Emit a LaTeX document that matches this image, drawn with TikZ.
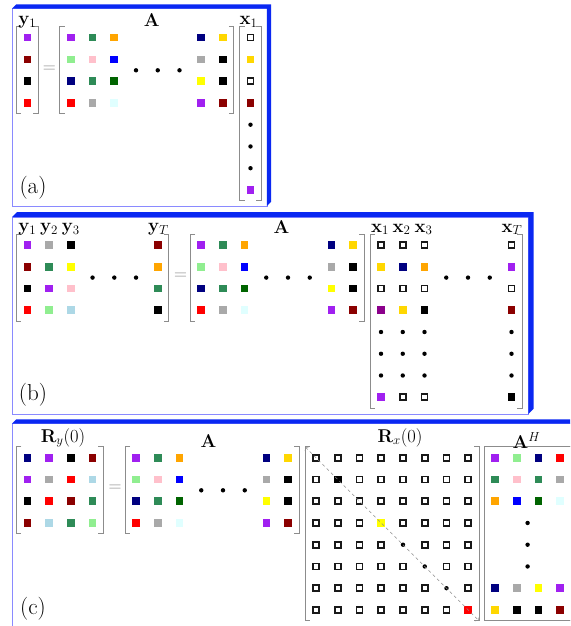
\RequirePackage{fix-cm}
\documentclass[tikz,border=0pt]{standalone}
\usepackage{xcolor}
\usepackage{amsmath}
\usepackage{tikz}
\usetikzlibrary{arrows.meta, calc}

% entry colours
\definecolor{purp}{HTML}{A020F0}
\definecolor{seagrn}{HTML}{2E8B57}
\definecolor{orng}{HTML}{FFA500}
\definecolor{navy}{HTML}{000080}
\definecolor{gold}{HTML}{FFD700}
\definecolor{ltgrn}{HTML}{90EE90}
\definecolor{pnk}{HTML}{FFC0CB}
\definecolor{blu}{HTML}{0000FF}
\definecolor{dgray}{HTML}{A9A9A9}
\definecolor{dgrn}{HTML}{006400}
\definecolor{yel}{HTML}{FFFF00}
\definecolor{rd}{HTML}{FF0000}
\definecolor{ltcyan}{HTML}{E0FFFF}
\definecolor{dred}{HTML}{8B0000}
\definecolor{ltblue}{HTML}{ADD8E6}
\definecolor{dmag}{HTML}{8B008B}
\definecolor{blk}{HTML}{000000}
\definecolor{frameblue}{HTML}{0A28F2}
\definecolor{frameline}{HTML}{8A8AFF}

\def\pitch{21.75}
\def\half{10.9}
\def\codeskip{-}
\def\codeopen{o}
\def\codedot{d}

% one entry: name, x, y, code (o = open square, d = dot, - = nothing, else a colour)
\newcommand{\cellcode}[4]{%
  \edef\tmpcode{#4}%
  \ifx\tmpcode\codeskip\relax
  \else\ifx\tmpcode\codeopen
    \node[opensq] (#1) at (#2,#3) {};%
  \else\ifx\tmpcode\codedot
    \node[vdot] (#1) at (#2,#3) {};%
  \else
    \node[fillsq, fill=\tmpcode] (#1) at (#2,#3) {};%
  \fi\fi\fi}

% bracketed grid: name, x of column 1, y of row 1, columns, rows, entries row by row
\newcommand{\matgrid}[6]{%
  \foreach \row [count=\i] in {#6} {
    \foreach \s [count=\j] in \row {
      \pgfmathsetmacro\cx{#2+(\j-1)*\pitch}
      \pgfmathsetmacro\cy{#3+(\i-1)*\pitch}
      \cellcode{#1-\i-\j}{\cx}{\cy}{\s}
    }
  }
  \pgfmathsetmacro\brL{#2-\half}
  \pgfmathsetmacro\brR{#2+(#4-1)*\pitch+\half}
  \pgfmathsetmacro\brT{#3-\half}
  \pgfmathsetmacro\brB{#3+(#5-1)*\pitch+\half}
  \coordinate (#1-nw) at (\brL,\brT);
  \coordinate (#1-sw) at (\brL,\brB);
  \coordinate (#1-se) at (\brR,\brB);
  \draw[brak] (\brL+5,\brT) -- (\brL,\brT) -- (\brL,\brB) -- (\brL+5,\brB);
  \draw[brak] (\brR-5,\brT) -- (\brR,\brT) -- (\brR,\brB) -- (\brR-5,\brB);
}

% three dots in a row / in a column: name, x, y of the first dot
\newcommand{\dotrow}[3]{%
  \foreach \k in {0,1,2} \node[vdot] (#1-\k) at (#2+\k*\pitch,#3) {};}
\newcommand{\dotcol}[3]{%
  \foreach \k in {0,1,2} \node[vdot] (#1-\k) at (#2,#3+\k*\pitch) {};}

% panel box with raised top and right edge: x1, y1, x2, y2, depth
\newcommand{\panelframe}[5]{%
  \draw[frameline] (#1,#2) rectangle (#3,#4);
  \fill[frameblue] (#1,#2) -- ++(#5,-#5) -- (#3+#5,#2-#5) -- (#3+#5,#4-#5) -- (#3,#4) -- (#3,#2) -- cycle;}

\begin{document}
\begin{tikzpicture}[
    x=1pt, y=-1pt,
    fillsq/.style={rectangle, minimum size=7.6pt, inner sep=0pt},
    opensq/.style={rectangle, minimum size=6pt, inner sep=0pt, draw=black!90, line width=1.6pt, fill=white},
    vdot/.style={circle, fill=black, minimum size=4.4pt, inner sep=0pt},
    brak/.style={draw=black!45, line width=0.8pt},
    lbl/.style={anchor=base, inner sep=0pt, font=\fontsize{18.5}{20}\selectfont},
    eqsign/.style={text=black!45, inner sep=0pt, font=\fontsize{18}{20}\selectfont},
    tag/.style={inner sep=0pt, font=\fontsize{23}{26}\selectfont},
    diag/.style={draw=black!45, dashed, line width=0.6pt, {To[length=3pt]}-{To[length=3pt]}}
]
    \useasboundingbox (0,0) rectangle (570,626);
    \clip (0,0) rectangle (570,626);

    % Panel (a)
    \panelframe{12}{8.6}{266.8}{206}{4.2}
    \matgrid{aY}{27.3}{37.7}{1}{4}{{purp},{dred},{blk},{rd}}
    \matgrid{aA}{70.7}{37.7}{8}{4}{
        {purp,seagrn,orng,-,-,-,navy,gold},
        {ltgrn,pnk,blu,-,-,-,dgray,blk},
        {navy,seagrn,dgrn,-,-,-,yel,blk},
        {rd,dgray,ltcyan,-,-,-,purp,dred}}
    \dotrow{aAdots}{136}{70.3}
    \matgrid{aX}{250.5}{37.7}{1}{8}{{o},{gold},{o},{dred},{d},{d},{d},{purp}}
    \node[lbl] (aYlbl) at (27.3,24.5) {$\mathbf{y}_1$};
    \node[lbl] (aAlbl) at (151.7,26.7) {$\mathbf{A}$};
    \node[lbl] (aXlbl) at (248.5,25) {$\mathbf{x}_1$};
    \node[eqsign] (aeq) at (49.3,69) {$=$};
    \node[tag] (atag) at (33,187.5) {(a)};

    % Panel (b)
    \panelframe{12}{217.2}{528.3}{414}{5.2}
    \matgrid{bY}{27.3}{245}{7}{4}{
        {purp,dgray,blk,-,-,-,dred},
        {dred,seagrn,yel,-,-,-,orng},
        {blk,purp,pnk,-,-,-,seagrn},
        {rd,ltgrn,ltblue,-,-,-,blk}}
    \dotrow{bYdots}{92.55}{277.6}
    \matgrid{bA}{201}{245}{8}{4}{
        {purp,seagrn,orng,-,-,-,navy,gold},
        {ltgrn,pnk,blu,-,-,-,dgray,blk},
        {navy,seagrn,dgrn,-,-,-,yel,blk},
        {rd,dgray,ltcyan,-,-,-,purp,dred}}
    \dotrow{bAdots}{266.25}{277.6}
    \matgrid{bX}{381}{245}{7}{8}{
        {o,o,o,-,-,-,o},
        {gold,navy,orng,-,-,-,purp},
        {o,o,o,-,-,-,o},
        {dmag,gold,blk,-,-,-,dred},
        {d,d,d,-,-,-,d},
        {d,d,d,-,-,-,d},
        {d,d,d,-,-,-,d},
        {purp,o,o,-,-,-,blk}}
    \dotrow{bXdots}{446.25}{277.6}
    \node[lbl] (bY1lbl) at (27.3,231.5) {$\mathbf{y}_1$};
    \node[lbl] (bY2lbl) at (49,231.5) {$\mathbf{y}_2$};
    \node[lbl] (bY3lbl) at (70.8,231.5) {$\mathbf{y}_3$};
    \node[lbl] (bYTlbl) at (158.5,231.5) {$\mathbf{y}_T$};
    \node[lbl] (bAlbl) at (281.5,233.5) {$\mathbf{A}$};
    \node[lbl] (bX1lbl) at (380,232) {$\mathbf{x}_1$};
    \node[lbl] (bX2lbl) at (401.5,232) {$\mathbf{x}_2$};
    \node[lbl] (bX3lbl) at (423.5,232) {$\mathbf{x}_3$};
    \node[lbl] (bXTlbl) at (512,232) {$\mathbf{x}_T$};
    \node[eqsign] (beq) at (180.5,276.5) {$=$};
    \node[tag] (btag) at (33,394.5) {(b)};

    % Panel (c)
    \panelframe{12}{423.5}{640}{700}{4.2}
    \matgrid{cRy}{27.3}{457.7}{4}{4}{
        {navy,purp,blk,dred},
        {purp,dgray,rd,ltblue},
        {blk,rd,dred,seagrn},
        {dred,ltblue,seagrn,ltgrn}}
    \matgrid{cA}{136}{457.7}{8}{4}{
        {purp,seagrn,orng,-,-,-,navy,gold},
        {ltgrn,pnk,blu,-,-,-,dgray,blk},
        {navy,seagrn,dgrn,-,-,-,yel,blk},
        {rd,dgray,ltcyan,-,-,-,purp,dred}}
    \dotrow{cAdots}{201.25}{490.3}
    \matgrid{cRx}{316}{457.7}{8}{8}{
        {o,o,o,o,o,o,o,o},
        {o,blk,o,o,o,o,o,o},
        {o,o,o,o,o,o,o,o},
        {o,o,o,yel,o,o,o,o},
        {o,o,o,o,d,o,o,o},
        {o,o,o,o,o,d,o,o},
        {o,o,o,o,o,o,d,o},
        {o,o,o,o,o,o,o,rd}}
    \draw[diag] (cRx-nw) -- (cRx-se);
    \matgrid{cAH}{495}{457.7}{4}{8}{
        {purp,ltgrn,navy,rd},
        {seagrn,pnk,seagrn,dgray},
        {orng,blu,dgrn,ltcyan},
        {-,-,-,-},
        {-,-,-,-},
        {-,-,-,-},
        {navy,dgray,yel,purp},
        {gold,blk,blk,dred}}
    \draw[brak] (cAH-nw) -- ++(100,0);
    \draw[brak] (cAH-sw) -- ++(100,0);
    \dotcol{cAHdots}{527.6}{522.95}
    \node[lbl] (cRylbl) at (63,442) {$\mathbf{R}_y(0)$};
    \node[lbl] (cAlbl) at (208.5,447) {$\mathbf{A}$};
    \node[lbl] (cRxlbl) at (400,442) {$\mathbf{R}_x(0)$};
    \node[lbl] (cAHlbl) at (526.5,448) {$\mathbf{A}^H$};
    \node[eqsign] (ceq) at (115,488) {$=$};
    \node[tag] (ctag) at (33,609) {(c)};

\end{tikzpicture}
\end{document}
